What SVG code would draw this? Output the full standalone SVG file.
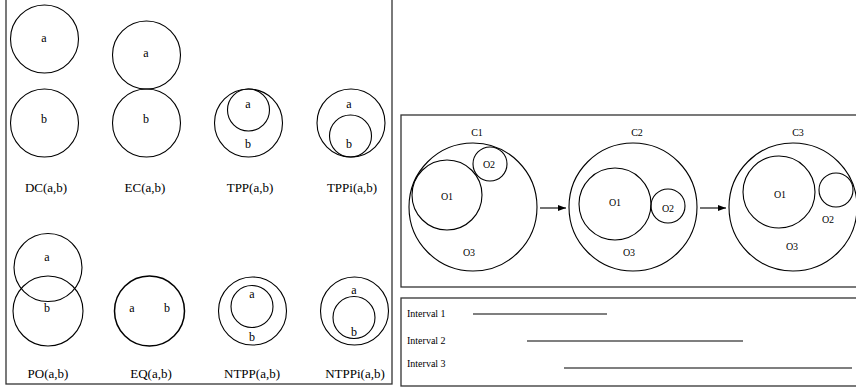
<svg xmlns="http://www.w3.org/2000/svg" width="856" height="391" viewBox="0 0 856 391">
<defs>
<style>
.frame{fill:none;stroke:#333;stroke-width:1.3}
.c{fill:none;stroke:#000;stroke-width:1.1}
.t{font-family:"Liberation Serif","Times New Roman",serif;fill:#000;text-anchor:middle}
.lab{font-size:13px}
.in{font-size:12px}
.sm{font-size:10px}
.iv{font-size:10px;text-anchor:start}
.conn{stroke:#000;stroke-width:1.1;fill:none}
</style>
<marker id="ah" markerWidth="8" markerHeight="6" refX="8" refY="3" orient="auto" markerUnits="userSpaceOnUse">
<path d="M0,0 L8,3 L0,6 Z" fill="#000"/>
</marker>
</defs>
<rect width="856" height="391" fill="#fff"/>

<!-- frames -->
<rect class="frame" x="6" y="-3" width="386" height="387"/>
<rect class="frame" x="401" y="115" width="460" height="172"/>
<rect class="frame" x="401" y="298" width="460" height="88"/>

<!-- RCC relations -->
<g id="DC">
<circle class="c" cx="44.5" cy="39" r="34"/>
<circle class="c" cx="44.5" cy="123" r="34"/>
<text class="t in" x="44" y="42">a</text>
<text class="t in" x="44" y="123">b</text>
<text class="t lab" x="46" y="192">DC(a,b)</text>
</g>
<g id="EC">
<circle class="c" cx="146.5" cy="55" r="34"/>
<circle class="c" cx="146.5" cy="123" r="34"/>
<text class="t in" x="146" y="57">a</text>
<text class="t in" x="146" y="123">b</text>
<text class="t lab" x="145" y="192">EC(a,b)</text>
</g>
<g id="TPP">
<circle class="c" cx="248.5" cy="123" r="34"/>
<circle class="c" cx="248.5" cy="110" r="21"/>
<text class="t in" x="248" y="108">a</text>
<text class="t in" x="248" y="148">b</text>
<text class="t lab" x="250" y="192">TPP(a,b)</text>
</g>
<g id="TPPi">
<circle class="c" cx="351" cy="123" r="34"/>
<circle class="c" cx="350.5" cy="136" r="21"/>
<text class="t in" x="349" y="108">a</text>
<text class="t in" x="349" y="148">b</text>
<text class="t lab" x="352" y="192">TPPi(a,b)</text>
</g>
<g id="PO">
<circle class="c" cx="48" cy="267.5" r="34"/>
<circle class="c" cx="48" cy="311" r="35"/>
<text class="t in" x="47" y="261">a</text>
<text class="t in" x="47" y="312">b</text>
<text class="t lab" x="48" y="378">PO(a,b)</text>
</g>
<g id="EQ">
<circle class="c" cx="149.5" cy="311" r="35" style="stroke-width:1.5"/>
<text class="t in" x="132" y="312">a</text>
<text class="t in" x="167" y="312">b</text>
<text class="t lab" x="151" y="378">EQ(a,b)</text>
</g>
<g id="NTPP">
<circle class="c" cx="252.5" cy="311" r="34"/>
<circle class="c" cx="252" cy="306.5" r="21"/>
<text class="t in" x="252" y="298">a</text>
<text class="t in" x="252" y="341">b</text>
<text class="t lab" x="252" y="378">NTPP(a,b)</text>
</g>
<g id="NTPPi">
<circle class="c" cx="354.5" cy="311" r="34"/>
<circle class="c" cx="354" cy="317.5" r="21"/>
<text class="t in" x="354" y="294">a</text>
<text class="t in" x="354" y="336">b</text>
<text class="t lab" x="355" y="378">NTPPi(a,b)</text>
</g>

<!-- configurations -->
<g id="C1">
<circle class="c" cx="473" cy="207" r="64"/>
<circle class="c" cx="447" cy="195" r="35"/>
<circle class="c" cx="490" cy="164" r="17"/>
<text class="t sm" x="477" y="136">C1</text>
<text class="t sm" x="447" y="200">O1</text>
<text class="t sm" x="489" y="168">O2</text>
<text class="t sm" x="469" y="256">O3</text>
</g>
<g id="C2">
<circle class="c" cx="633" cy="207" r="64"/>
<circle class="c" cx="615" cy="204" r="36"/>
<circle class="c" cx="668" cy="206" r="17"/>
<text class="t sm" x="637" y="136">C2</text>
<text class="t sm" x="615" y="206">O1</text>
<text class="t sm" x="668" y="212">O2</text>
<text class="t sm" x="629" y="256">O3</text>
</g>
<g id="C3">
<circle class="c" cx="793" cy="207" r="64"/>
<circle class="c" cx="779" cy="192" r="36"/>
<circle class="c" cx="836" cy="190" r="17"/>
<text class="t sm" x="798" y="136">C3</text>
<text class="t sm" x="780" y="198">O1</text>
<text class="t sm" x="828" y="223">O2</text>
<text class="t sm" x="792" y="250">O3</text>
</g>

<g id="connectors">
<line class="conn" x1="540" y1="208" x2="566" y2="208" marker-end="url(#ah)"/>
<line class="conn" x1="700" y1="208" x2="726" y2="208" marker-end="url(#ah)"/>
</g>

<!-- intervals -->
<g id="intervals">
<text class="t iv" x="407" y="317">Interval 1</text>
<text class="t iv" x="407" y="344">Interval 2</text>
<text class="t iv" x="407" y="367">Interval 3</text>
<line x1="473" y1="314" x2="607" y2="314" stroke="#000" stroke-width="1.1"/>
<line x1="527" y1="341" x2="743" y2="341" stroke="#000" stroke-width="1.1"/>
<line x1="564" y1="368" x2="852" y2="368" stroke="#555" stroke-width="1.4"/>
</g>
</svg>
